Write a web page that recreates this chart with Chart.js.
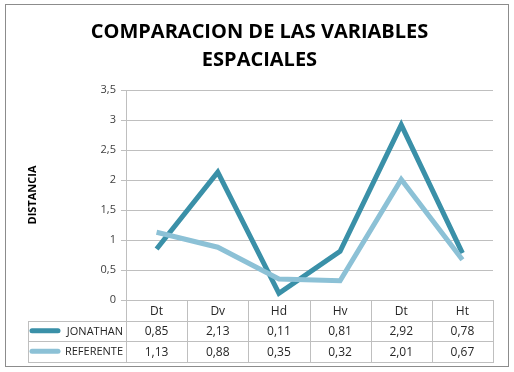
<!DOCTYPE html>
<html>
<head>
<meta charset="utf-8">
<script src="https://cdn.jsdelivr.net/npm/chart.js@4"></script>
<style>
html,body{margin:0;padding:0;background:#fff;}
#wrap{width:514px;height:372px;position:relative;}
</style>
</head>
<body>
<div id="wrap"><canvas id="c" width="514" height="372"></canvas></div>
<script>
const categories = ['Dt', 'Dv', 'Hd', 'Hv', 'Dt', 'Ht'];
const jonathan = [0.85, 2.13, 0.11, 0.81, 2.92, 0.78];
const referente = [1.13, 0.88, 0.35, 0.32, 2.01, 0.67];
const seriesNames = ['JONATHAN', 'REFERENTE'];
const titleLines = ['COMPARACION DE LAS VARIABLES', 'ESPACIALES'];
const yTitle = 'DISTANCIA';

const DARK = '#3a90a8';
const LIGHT = '#8cc1d6';
const GRID = '#bfbfbf';
const FONT = "'Open Sans', 'Noto Sans', sans-serif";
const fmt = v => String(v).replace('.', ',');

const tablePlugin = {
  id: 'dataTable',
  beforeDraw(chart) {
    const ctx = chart.ctx;
    ctx.save();
    ctx.fillStyle = '#fff';
    ctx.fillRect(0, 0, chart.width, chart.height);
    ctx.strokeStyle = '#8c8c8c';
    ctx.lineWidth = 1;
    ctx.strokeRect(5.5, 4.5, 503, 362);
    ctx.restore();
  },
  afterDraw(chart) {
    const ctx = chart.ctx;
    const x = chart.scales.x;
    const area = chart.chartArea;
    const top = area.bottom;
    const rowH = 20.5;
    const legendLeft = 28;
    const n = categories.length;
    const colW = (area.right - area.left) / n;
    ctx.save();
    ctx.strokeStyle = GRID;
    ctx.lineWidth = 1;
    const ys = [top, top + rowH, top + 2 * rowH, top + 3 * rowH];
    ys.forEach((yy, i) => {
      const l = i === 0 ? area.left : legendLeft;
      ctx.beginPath();
      ctx.moveTo(l, Math.round(yy) + 0.5);
      ctx.lineTo(area.right, Math.round(yy) + 0.5);
      ctx.stroke();
    });
    for (let i = 0; i <= n; i++) {
      const xx = Math.round(area.left + i * colW) + 0.5;
      ctx.beginPath();
      ctx.moveTo(xx, Math.round(top));
      ctx.lineTo(xx, Math.round(ys[3]) + 1);
      ctx.stroke();
    }
    ctx.beginPath();
    ctx.moveTo(legendLeft + 0.5, Math.round(ys[1]));
    ctx.lineTo(legendLeft + 0.5, Math.round(ys[3]) + 1);
    ctx.stroke();

    ctx.font = '12px ' + FONT;
    ctx.fillStyle = '#262626';
    ctx.textAlign = 'center';
    ctx.textBaseline = 'middle';
    categories.forEach((c, i) => {
      const cx = x.getPixelForValue(i);
      ctx.fillText(c, cx, top + rowH / 2 + 1);
      ctx.fillText(fmt(jonathan[i]), cx, top + rowH * 1.5 + 1);
      ctx.fillText(fmt(referente[i]), cx, top + rowH * 2.5 + 1);
    });
    const colors = [DARK, LIGHT];
    seriesNames.forEach((name, k) => {
      const cy = top + rowH * (1.5 + k);
      ctx.strokeStyle = colors[k];
      ctx.lineWidth = 5;
      ctx.lineCap = 'round';
      ctx.beginPath();
      ctx.moveTo(32, cy);
      ctx.lineTo(58, cy);
      ctx.stroke();
      ctx.fillStyle = '#262626';
      ctx.textAlign = 'right';
      ctx.font = '11px ' + FONT;
      ctx.fillText(name, area.left - 3, cy + 1);
    });
    ctx.restore();
  }
};

new Chart(document.getElementById('c'), {
  type: 'line',
  data: {
    labels: categories,
    datasets: [
      { label: seriesNames[0], data: jonathan, borderColor: DARK, backgroundColor: DARK,
        borderWidth: 5, pointRadius: 0, tension: 0, order: 1, borderJoinStyle: 'miter' },
      { label: seriesNames[1], data: referente, borderColor: LIGHT, backgroundColor: LIGHT,
        borderWidth: 5, pointRadius: 0, tension: 0, order: 0, borderJoinStyle: 'miter' }
    ]
  },
  options: {
    responsive: false,
    animation: false,
    layout: { padding: { top: 18, left: 26, right: 21, bottom: 72 } },
    plugins: {
      legend: { display: false },
      tooltip: { enabled: false },
      title: {
        display: true,
        text: titleLines,
        color: '#000',
        font: { family: FONT, size: 20, weight: 'bold', lineHeight: 1.4 },
        padding: { top: 0, bottom: 16 }
      }
    },
    scales: {
      x: {
        display: false,
        offset: true,
        grid: { offset: true }
      },
      y: {
        min: 0, max: 3.5,
        ticks: {
          stepSize: 0.5,
          color: '#404040',
          font: { family: FONT, size: 11 },
          padding: 5,
          callback: v => fmt(v)
        },
        grid: { color: GRID, tickLength: 5, drawTicks: true },
        border: { color: GRID },
        title: {
          display: true,
          text: yTitle,
          color: '#000',
          font: { family: FONT, size: 11, weight: 'bold' },
          padding: { top: 0, bottom: 0 }
        },
        afterFit(scale) { scale.width = 100; }
      }
    }
  },
  plugins: [tablePlugin]
});
</script>
</body>
</html>
